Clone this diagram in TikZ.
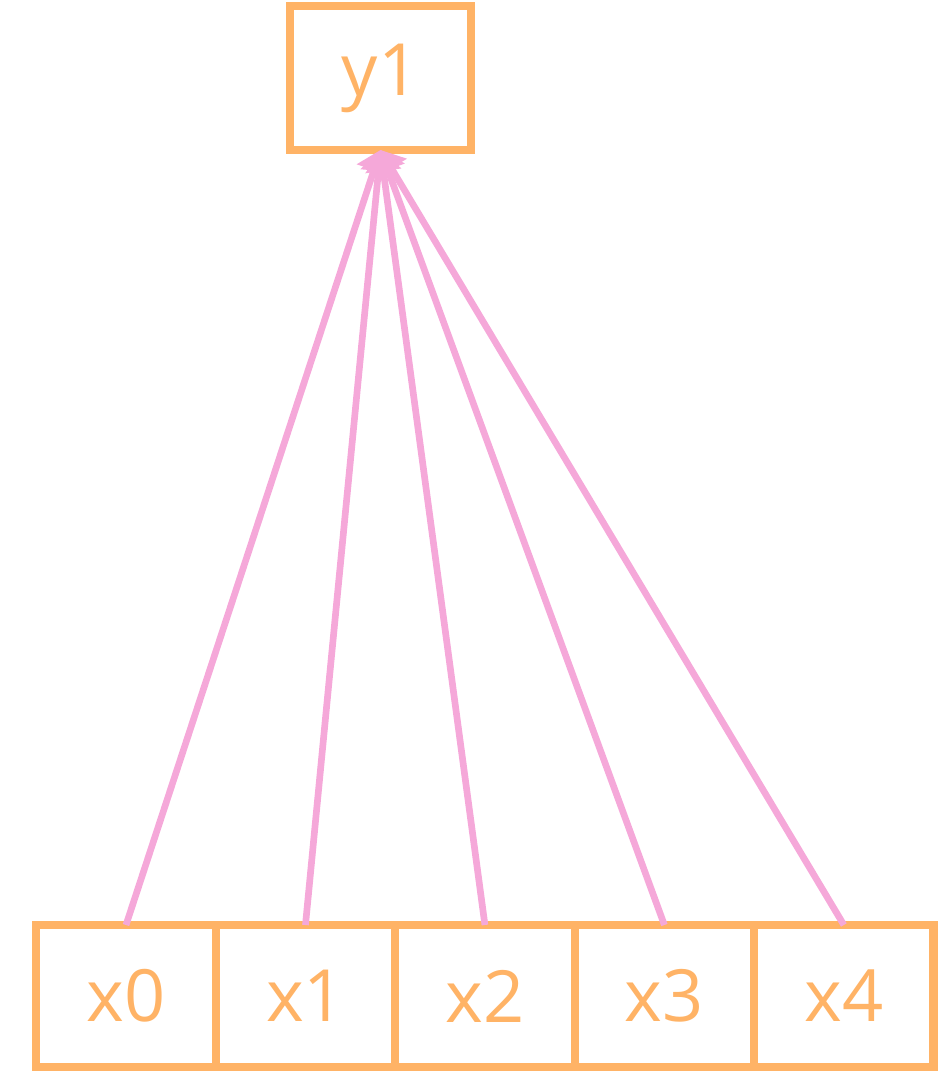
\documentclass[tikz,border=0pt]{standalone}
\usepackage{fontspec}
\setmainfont{Open Sans}
\usetikzlibrary{arrows.meta,positioning}
\definecolor{boxorange}{HTML}{FFB366}
\definecolor{linkpink}{HTML}{F5A8D9}

\begin{document}
\begin{tikzpicture}[
  x=0.02cm, y=-0.02cm,
  node distance=0pt,
  cell/.style={draw=boxorange, line width=4.7pt, text=boxorange, outer sep=0pt,
               font=\fontsize{41}{48}\selectfont, inner sep=0pt,
               minimum width=3.59cm, minimum height=2.84cm},
  outcell/.style={cell, minimum width=3.62cm, minimum height=2.88cm},
  ar/.style={-{Triangle[width=20pt, length=12pt]}, linkpink, line width=3.8pt}
]
\useasboundingbox (0,0) rectangle (939,1086);

\node[outcell] (y1) at (380.5,78) {y1};

\node[cell] (x0) at (126,996) {x0};
\node[cell, right=of x0] (x1) {x1};
\node[cell, right=of x1] (x2) {x2};
\node[cell, right=of x2] (x3) {x3};
\node[cell, right=of x3] (x4) {x4};

\foreach \n in {x0,x1,x2,x3,x4} \draw[ar] (\n.north) -- (y1.south);
\end{tikzpicture}
\end{document}
